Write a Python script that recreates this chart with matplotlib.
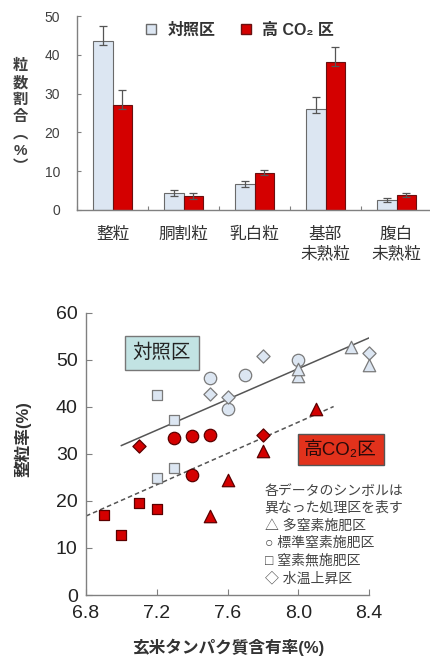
import matplotlib
matplotlib.use("Agg")
import matplotlib.pyplot as plt
import numpy as np
from matplotlib.lines import Line2D

plt.rcParams['font.family'] = ['Liberation Sans', 'Noto Sans CJK JP', 'DejaVu Sans']

# ---------- top chart data ----------
categories = ["整粒", "胴割粒", "乳白粒", "基部\n未熟粒", "腹白\n未熟粒"]
ctrl_vals = [43.5, 4.4, 6.7, 26.0, 2.6]
ctrl_err_lo = [1.0, 0.8, 0.8, 1.0, 0.6]
ctrl_err_hi = [4.0, 0.8, 0.9, 3.0, 0.6]
co2_vals = [27.0, 3.6, 9.5, 38.2, 3.8]
co2_err_lo = [1.0, 0.8, 0.6, 1.0, 0.5]
co2_err_hi = [4.0, 0.8, 0.7, 3.8, 0.5]
top_yticks = [0, 10, 20, 30, 40, 50]

# ---------- bottom chart data ----------
ctrl_sq_x = [7.2, 7.3, 7.3, 7.2]
ctrl_sq_y = [42.6, 37.2, 27.1, 24.8]
ctrl_ci_x = [7.5, 7.7, 7.6, 8.0]
ctrl_ci_y = [46.2, 46.9, 39.6, 49.9]
ctrl_di_x = [7.5, 7.6, 7.8, 8.4]
ctrl_di_y = [42.7, 42.2, 50.8, 51.5]
ctrl_tr_x = [8.3, 8.4, 8.0, 8.0]
ctrl_tr_y = [52.8, 49.0, 46.6, 48.0]

co2_di_x = [7.1, 7.8]
co2_di_y = [31.7, 34.0]
co2_ci_x = [7.3, 7.4, 7.5, 7.4]
co2_ci_y = [33.3, 33.8, 34.0, 25.5]
co2_sq_x = [6.9, 7.1, 7.2, 7.0]
co2_sq_y = [17.1, 19.5, 18.3, 12.7]
co2_tr_x = [7.8, 7.6, 7.5, 8.1]
co2_tr_y = [30.6, 24.4, 16.8, 39.5]

ctrl_line_x = [7.0, 8.4]
ctrl_line_y = [31.8, 54.7]
co2_line_x = [6.8, 8.2]
co2_line_y = [16.8, 40.1]

bottom_xticks = [6.8, 7.2, 7.6, 8.0, 8.4]
bottom_yticks = [0, 10, 20, 30, 40, 50, 60]

legend_lines = ["各データのシンボルは", "異なった処理区を表す", "△ 多窒素施肥区",
                "○ 標準窒素施肥区", "□ 窒素無施肥区", "◇ 水温上昇区"]

CTRL_FILL = "#dce6f2"
CTRL_EDGE = "#7a7a7a"
CO2_FILL = "#d40000"
CO2_EDGE = "#5a0000"
SPINE = "#808080"
TXT = "#333333"

fig = plt.figure(figsize=(4.3, 6.56), dpi=100)

# ================= TOP =================
ax1 = fig.add_axes([77/430, 1-210/656, 355/430, (210-16)/656])
x = np.arange(len(categories))
w = 0.28
ax1.bar(x - w/2, ctrl_vals, w, color=CTRL_FILL, edgecolor="#6a6a6a", linewidth=0.8,
        yerr=[ctrl_err_lo, ctrl_err_hi], error_kw=dict(ecolor="#555555", elinewidth=0.9, capsize=3, capthick=0.9),
        label="対照区")
ax1.bar(x + w/2, co2_vals, w, color=CO2_FILL, edgecolor="#6a1010", linewidth=0.8,
        yerr=[co2_err_lo, co2_err_hi], error_kw=dict(ecolor="#555555", elinewidth=0.9, capsize=3, capthick=0.9),
        label="高 CO₂ 区")
ax1.set_xlim(-0.5, len(categories) - 0.5)
ax1.set_ylim(0, 50)
ax1.set_yticks(top_yticks)
ax1.set_yticklabels([str(v) for v in top_yticks], fontsize=10, color="#404040")
ax1.set_xticks(np.arange(len(categories) + 1) - 0.5, minor=False)
ax1.set_xticklabels([])
ax1.set_xticks(x, minor=True)
ax1.set_xticklabels(categories, minor=True, fontsize=12, color=TXT, linespacing=1.3, va="top")
ax1.tick_params(axis="x", which="minor", length=0, pad=12)
ax1.tick_params(axis="x", which="major", direction="in", length=3, color=SPINE)
ax1.tick_params(axis="y", direction="in", length=3, color=SPINE, pad=12)
for s in ["top", "right"]:
    ax1.spines[s].set_visible(False)
for s in ["left", "bottom"]:
    ax1.spines[s].set_color(SPINE)
    ax1.spines[s].set_linewidth(1.0)

h1 = Line2D([], [], marker="s", linestyle="none", markersize=7, markerfacecolor=CTRL_FILL,
            markeredgecolor="#6a6a6a")
h2 = Line2D([], [], marker="s", linestyle="none", markersize=7, markerfacecolor=CO2_FILL,
            markeredgecolor="#6a1010")
fig.legend([h1, h2], ["対照区", "高 CO₂ 区"], loc="upper center", bbox_to_anchor=(0.545, 0.988),
           ncol=2, frameon=False, handletextpad=0.0, columnspacing=0.9,
           labelcolor=TXT, prop={"weight": "bold", "size": 11.5})

fig.text(0.047, 0.822, "\n".join(["粒", "数", "割", "合", "︵", "%", "︶"]), fontsize=11,
         fontweight="bold", color="#404040", ha="center", va="center", linespacing=1.25)

# ================= BOTTOM =================
ax2 = fig.add_axes([86/430, 1-595/656, (369-86)/430, (595-313)/656])
ax2.plot(ctrl_line_x, ctrl_line_y, color="#555555", linewidth=1.1, zorder=1)
ax2.plot(co2_line_x, co2_line_y, color="#555555", linewidth=1.1, linestyle=(0, (3, 2)), zorder=1)

ck = dict(facecolor=CTRL_FILL, edgecolor=CTRL_EDGE, linewidths=0.9, zorder=3, clip_on=False)
rk = dict(facecolor=CO2_FILL, edgecolor=CO2_EDGE, linewidths=0.9, zorder=3, clip_on=False)
ax2.scatter(ctrl_sq_x, ctrl_sq_y, marker="s", s=55, **ck)
ax2.scatter(ctrl_ci_x, ctrl_ci_y, marker="o", s=80, **ck)
ax2.scatter(ctrl_di_x, ctrl_di_y, marker="D", s=45, **ck)
ax2.scatter(ctrl_tr_x, ctrl_tr_y, marker="^", s=80, **ck)
ax2.scatter(co2_di_x, co2_di_y, marker="D", s=45, **rk)
ax2.scatter(co2_ci_x, co2_ci_y, marker="o", s=80, **rk)
ax2.scatter(co2_sq_x, co2_sq_y, marker="s", s=55, **rk)
ax2.scatter(co2_tr_x, co2_tr_y, marker="^", s=80, **rk)

ax2.set_xlim(6.8, 8.4)
ax2.set_ylim(0, 60)
ax2.set_xticks(bottom_xticks)
ax2.set_xticklabels([f"{v:.1f}" for v in bottom_xticks], fontsize=14, color="#222222")
ax2.set_yticks(bottom_yticks)
ax2.set_yticklabels([str(v) for v in bottom_yticks], fontsize=14, color="#222222")
ax2.tick_params(axis="both", direction="in", length=4, color=SPINE)
ax2.tick_params(axis="x", pad=7)
ax2.tick_params(axis="y", pad=6)
for s in ["top", "right"]:
    ax2.spines[s].set_visible(False)
for s in ["left", "bottom"]:
    ax2.spines[s].set_color(SPINE)
    ax2.spines[s].set_linewidth(1.0)

ax2.text(7.228, 51.5, "対照区", fontsize=14, color="#222222", ha="center", va="center",
         bbox=dict(boxstyle="square,pad=0.4", facecolor="#c2e3e3", edgecolor="#777777", linewidth=1.0),
         zorder=4)
ax2.text(8.24, 30.9, "高CO₂区", fontsize=13.5, color="#2a0a0a", ha="center", va="center",
         bbox=dict(boxstyle="square,pad=0.35", facecolor="#e2321c", edgecolor="#555555", linewidth=1.0),
         zorder=4)

leg_y = [22.2, 18.6, 14.7, 11.0, 7.3, 3.5]
for yy, t in zip(leg_y, legend_lines):
    ax2.text(7.81, yy, t, fontsize=10, color="#444444", ha="left", va="center", zorder=4)

fig.text(228/430, 1-647/656, "玄米タンパク質含有率(%)", fontsize=12, fontweight="bold",
         color="#333333", ha="center", va="center")
fig.text(23/430, 1-439/656, "整粒率(%)", fontsize=12, fontweight="bold", rotation=90,
         color="#333333", ha="center", va="center")

fig.savefig("out.png", dpi=100)
